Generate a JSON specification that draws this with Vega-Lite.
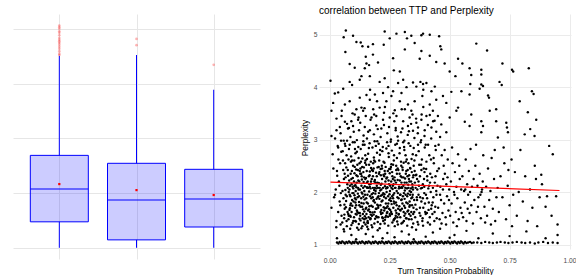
{
"$schema": "https://vega.github.io/schema/vega-lite/v6.json",
"padding": {"left": 13, "top": 6, "right": 0, "bottom": 0},
"bounds": "flush",
"spacing": 59,
"config": {
  "view": {"stroke": null},
  "font": "Liberation Sans",
  "axis": {"gridColor": "#ebebeb", "gridWidth": 1, "domain": false, "ticks": false, "labelColor": "#4d4d4d", "labelFontSize": 6.7, "titleFontSize": 8.3, "titleFontWeight": "normal", "titleColor": "#000000"}
},
"datasets": {
  "box": [
    {"group": "A", "lower": 0, "q1": 0.95, "median": 2.15, "q3": 3.38, "upper": 7.02, "mean": 2.33},
    {"group": "B", "lower": 0, "q1": 0.29, "median": 1.75, "q3": 3.09, "upper": 7.05, "mean": 2.11},
    {"group": "C", "lower": 0, "q1": 0.76, "median": 1.78, "q3": 2.87, "upper": 5.78, "mean": 1.93}
  ],
  "outliers": [
    {"group": "A", "value": 8.13}, {"group": "A", "value": 8.07}, {"group": "A", "value": 8.01}, {"group": "A", "value": 7.92},
    {"group": "A", "value": 7.86}, {"group": "A", "value": 7.77}, {"group": "A", "value": 7.67}, {"group": "A", "value": 7.61},
    {"group": "A", "value": 7.55}, {"group": "A", "value": 7.5}, {"group": "A", "value": 7.43}, {"group": "A", "value": 7.35},
    {"group": "A", "value": 7.28}, {"group": "A", "value": 7.19}, {"group": "A", "value": 7.1}, {"group": "A", "value": 7.05},
    {"group": "B", "value": 7.64}, {"group": "B", "value": 7.41},
    {"group": "C", "value": 6.69}
  ],
  "fit": [{"ttp": 0.003, "ppl": 2.19}, {"ttp": 0.958, "ppl": 2.03}],
  "pts": [
{"ttp":0.003,"ppl":4.12},{"ttp":0.067,"ppl":5.08},{"ttp":0.058,"ppl":4.95},{"ttp":0.097,"ppl":4.98},{"ttp":0.065,"ppl":4.67},{"ttp":0.111,"ppl":4.86},{"ttp":0.129,"ppl":4.85},{"ttp":0.136,"ppl":4.78},{"ttp":0.16,"ppl":4.77},{"ttp":0.18,"ppl":4.82},{"ttp":0.229,"ppl":5.06},{"ttp":0.225,"ppl":4.81},{"ttp":0.25,"ppl":4.93},{"ttp":0.278,"ppl":5.02},{"ttp":0.313,"ppl":5.05},{"ttp":0.322,"ppl":4.93},{"ttp":0.34,"ppl":4.98},{"ttp":0.354,"ppl":4.84},{"ttp":0.382,"ppl":4.99},{"ttp":0.389,"ppl":5.02},{"ttp":0.417,"ppl":5.0},{"ttp":0.456,"ppl":4.97},{"ttp":0.461,"ppl":4.78},{"ttp":0.465,"ppl":4.72},{"ttp":0.611,"ppl":4.83},{"ttp":0.656,"ppl":4.7},{"ttp":0.15,"ppl":4.58},{"ttp":0.18,"ppl":4.62},{"ttp":0.153,"ppl":4.45},{"ttp":0.083,"ppl":4.44},{"ttp":0.104,"ppl":4.37},{"ttp":0.146,"ppl":4.36},{"ttp":0.164,"ppl":4.42},{"ttp":0.201,"ppl":4.47},{"ttp":0.264,"ppl":4.55},{"ttp":0.267,"ppl":4.32},{"ttp":0.292,"ppl":4.3},{"ttp":0.313,"ppl":4.72},{"ttp":0.382,"ppl":4.69},{"ttp":0.417,"ppl":4.6},{"ttp":0.375,"ppl":4.54},{"ttp":0.444,"ppl":4.48},{"ttp":0.479,"ppl":4.45},{"ttp":0.5,"ppl":4.3},{"ttp":0.524,"ppl":4.21},{"ttp":0.535,"ppl":4.54},{"ttp":0.553,"ppl":4.45},{"ttp":0.583,"ppl":4.36},{"ttp":0.59,"ppl":4.23},{"ttp":0.632,"ppl":4.33},{"ttp":0.632,"ppl":4.24},{"ttp":0.72,"ppl":4.45},{"ttp":0.76,"ppl":4.33},{"ttp":0.765,"ppl":4.3},{"ttp":0.83,"ppl":4.36},{"ttp":0.586,"ppl":4.06},{"ttp":0.632,"ppl":4.05},{"ttp":0.639,"ppl":4.02},{"ttp":0.708,"ppl":4.1},{"ttp":0.717,"ppl":4.04},{"ttp":0.035,"ppl":3.9},{"ttp":0.056,"ppl":3.97},{"ttp":0.021,"ppl":3.88},{"ttp":0.083,"ppl":4.1},{"ttp":0.093,"ppl":4.04},{"ttp":0.125,"ppl":4.14},{"ttp":0.132,"ppl":4.21},{"ttp":0.167,"ppl":4.21},{"ttp":0.168,"ppl":3.95},{"ttp":0.208,"ppl":4.1},{"ttp":0.229,"ppl":4.17},{"ttp":0.243,"ppl":4.0},{"ttp":0.264,"ppl":3.92},{"ttp":0.285,"ppl":4.08},{"ttp":0.306,"ppl":4.14},{"ttp":0.32,"ppl":4.0},{"ttp":0.347,"ppl":4.09},{"ttp":0.361,"ppl":4.01},{"ttp":0.378,"ppl":4.1},{"ttp":0.389,"ppl":4.06},{"ttp":0.403,"ppl":4.08},{"ttp":0.438,"ppl":4.01},{"ttp":0.424,"ppl":3.92},{"ttp":0.39,"ppl":3.95},{"ttp":0.299,"ppl":3.89},{"ttp":0.257,"ppl":3.83},{"ttp":0.222,"ppl":3.89},{"ttp":0.188,"ppl":3.86},{"ttp":0.153,"ppl":3.85},{"ttp":0.125,"ppl":3.8},{"ttp":0.083,"ppl":3.73},{"ttp":0.063,"ppl":3.67},{"ttp":0.014,"ppl":3.7},{"ttp":0.507,"ppl":3.91},{"ttp":0.549,"ppl":3.92},{"ttp":0.583,"ppl":3.86},{"ttp":0.625,"ppl":3.97},{"ttp":0.66,"ppl":3.84},{"ttp":0.664,"ppl":3.8},{"ttp":0.843,"ppl":3.92},{"ttp":0.85,"ppl":3.87},{"ttp":0.792,"ppl":3.73},{"ttp":0.826,"ppl":3.52},{"ttp":0.667,"ppl":3.55},{"ttp":0.694,"ppl":3.58},{"ttp":0.59,"ppl":3.48},{"ttp":0.535,"ppl":3.61},{"ttp":0.528,"ppl":3.55},{"ttp":0.486,"ppl":3.7},{"ttp":0.472,"ppl":3.83},{"ttp":0.444,"ppl":3.76},{"ttp":0.417,"ppl":3.67},{"ttp":0.386,"ppl":3.83},{"ttp":0.354,"ppl":3.73},{"ttp":0.326,"ppl":3.67},{"ttp":0.292,"ppl":3.73},{"ttp":0.236,"ppl":3.73},{"ttp":0.197,"ppl":3.73},{"ttp":0.167,"ppl":3.76},{"ttp":0.132,"ppl":3.61},{"ttp":0.111,"ppl":3.58},{"ttp":0.139,"ppl":3.55},{"ttp":0.181,"ppl":3.58},{"ttp":0.208,"ppl":3.61},{"ttp":0.226,"ppl":3.51},{"ttp":0.271,"ppl":3.56},{"ttp":0.313,"ppl":3.58},{"ttp":0.34,"ppl":3.55},{"ttp":0.383,"ppl":3.48},{"ttp":0.417,"ppl":3.47},{"ttp":0.451,"ppl":3.45},{"ttp":0.5,"ppl":3.42},{"ttp":0.632,"ppl":3.35},{"ttp":0.694,"ppl":3.35},{"ttp":0.736,"ppl":3.32},{"ttp":0.861,"ppl":3.38},{"ttp":0.836,"ppl":3.2},{"ttp":0.854,"ppl":3.07},{"ttp":0.813,"ppl":3.1},{"ttp":0.739,"ppl":3.23},{"ttp":0.743,"ppl":3.14},{"ttp":0.701,"ppl":3.04},{"ttp":0.639,"ppl":3.26},{"ttp":0.632,"ppl":3.14},{"ttp":0.583,"ppl":3.26},{"ttp":0.563,"ppl":3.34},{"ttp":0.007,"ppl":3.55},{"ttp":0.028,"ppl":3.4},{"ttp":0.049,"ppl":3.45},{"ttp":0.063,"ppl":3.34},{"ttp":0.09,"ppl":3.35},{"ttp":0.104,"ppl":3.48},{"ttp":0.118,"ppl":3.38},{"ttp":0.15,"ppl":3.45},{"ttp":0.174,"ppl":3.42},{"ttp":0.194,"ppl":3.45},{"ttp":0.222,"ppl":3.38},{"ttp":0.25,"ppl":3.42},{"ttp":0.278,"ppl":3.45},{"ttp":0.306,"ppl":3.35},{"ttp":0.333,"ppl":3.42},{"ttp":0.361,"ppl":3.32},{"ttp":0.382,"ppl":3.38},{"ttp":0.403,"ppl":3.45},{"ttp":0.431,"ppl":3.35},{"ttp":0.465,"ppl":3.29},{"ttp":0.007,"ppl":3.07},{"ttp":0.028,"ppl":3.18},{"ttp":0.042,"ppl":3.24},{"ttp":0.076,"ppl":3.21},{"ttp":0.097,"ppl":3.26},{"ttp":0.122,"ppl":3.18},{"ttp":0.146,"ppl":3.24},{"ttp":0.167,"ppl":3.18},{"ttp":0.194,"ppl":3.27},{"ttp":0.215,"ppl":3.21},{"ttp":0.247,"ppl":3.24},{"ttp":0.275,"ppl":3.18},{"ttp":0.303,"ppl":3.21},{"ttp":0.326,"ppl":3.26},{"ttp":0.347,"ppl":3.17},{"ttp":0.368,"ppl":3.23},{"ttp":0.396,"ppl":3.18},{"ttp":0.424,"ppl":3.23},{"ttp":0.444,"ppl":3.15},{"ttp":0.486,"ppl":3.14},
{"ttp":0.022,"ppl":3.02},{"ttp":0.045,"ppl":3.12},{"ttp":0.058,"ppl":2.98},{"ttp":0.072,"ppl":3.3},{"ttp":0.086,"ppl":3.05},{"ttp":0.1,"ppl":3.15},{"ttp":0.113,"ppl":2.99},{"ttp":0.127,"ppl":3.32},{"ttp":0.141,"ppl":3.08},{"ttp":0.155,"ppl":3.02},{"ttp":0.17,"ppl":3.38},{"ttp":0.184,"ppl":3.1},{"ttp":0.198,"ppl":2.97},{"ttp":0.212,"ppl":3.05},{"ttp":0.226,"ppl":3.28},{"ttp":0.24,"ppl":3.12},{"ttp":0.255,"ppl":3.0},{"ttp":0.269,"ppl":3.35},{"ttp":0.283,"ppl":3.06},{"ttp":0.297,"ppl":3.14},{"ttp":0.311,"ppl":2.98},{"ttp":0.325,"ppl":3.09},{"ttp":0.339,"ppl":3.3},{"ttp":0.353,"ppl":3.03},{"ttp":0.367,"ppl":3.12},{"ttp":0.381,"ppl":2.99},{"ttp":0.395,"ppl":3.07},{"ttp":0.409,"ppl":3.28},{"ttp":0.423,"ppl":3.02},{"ttp":0.437,"ppl":3.36},{"ttp":0.05,"ppl":3.55},{"ttp":0.095,"ppl":3.5},{"ttp":0.145,"ppl":3.6},{"ttp":0.185,"ppl":3.48},{"ttp":0.23,"ppl":3.62},{"ttp":0.265,"ppl":3.5},{"ttp":0.3,"ppl":3.58},{"ttp":0.345,"ppl":3.48},{"ttp":0.39,"ppl":3.62},{"ttp":0.43,"ppl":3.55},{"ttp":0.035,"ppl":2.85},{"ttp":0.065,"ppl":2.88},{"ttp":0.105,"ppl":2.82},{"ttp":0.145,"ppl":2.9},{"ttp":0.178,"ppl":2.85},{"ttp":0.21,"ppl":2.8},{"ttp":0.245,"ppl":2.88},{"ttp":0.28,"ppl":2.92},{"ttp":0.31,"ppl":2.86},{"ttp":0.35,"ppl":2.84},{"ttp":0.4,"ppl":2.9},{"ttp":0.44,"ppl":2.88},{"ttp":0.12,"ppl":3.42},{"ttp":0.2,"ppl":3.2},{"ttp":0.275,"ppl":3.22},{"ttp":0.36,"ppl":3.4},{"ttp":0.08,"ppl":3.22},{"ttp":0.16,"ppl":3.15},{"ttp":0.33,"ppl":3.16},{"ttp":0.46,"ppl":3.05},
{"ttp":0.012,"ppl":2.72},{"ttp":0.018,"ppl":1.9},{"ttp":0.007,"ppl":1.7},{"ttp":0.025,"ppl":2.05},{"ttp":0.022,"ppl":1.95},{"ttp":0.03,"ppl":2.4},{"ttp":0.028,"ppl":1.45},{"ttp":0.033,"ppl":2.88},{"ttp":0.035,"ppl":1.62},{"ttp":0.038,"ppl":2.2},{"ttp":0.041,"ppl":1.82},{"ttp":0.043,"ppl":2.55},{"ttp":0.045,"ppl":1.38},{"ttp":0.047,"ppl":2.98},{"ttp":0.049,"ppl":1.55},{"ttp":0.036,"ppl":2.62},{"ttp":0.04,"ppl":2.12},{"ttp":0.044,"ppl":1.75},{"ttp":0.031,"ppl":2.31},{"ttp":0.048,"ppl":2.77},{"ttp":0.027,"ppl":1.33},{"ttp":0.046,"ppl":1.98},{"ttp":0.015,"ppl":2.45},
{"ttp":0.052,"ppl":1.42},{"ttp":0.055,"ppl":2.6},{"ttp":0.057,"ppl":1.88},{"ttp":0.059,"ppl":2.25},{"ttp":0.061,"ppl":1.57},{"ttp":0.063,"ppl":2.92},{"ttp":0.065,"ppl":2.04},{"ttp":0.067,"ppl":1.71},{"ttp":0.069,"ppl":2.47},{"ttp":0.071,"ppl":1.35},{"ttp":0.073,"ppl":2.15},{"ttp":0.054,"ppl":2.78},{"ttp":0.058,"ppl":1.29},{"ttp":0.062,"ppl":2.35},{"ttp":0.066,"ppl":1.95},{"ttp":0.07,"ppl":2.7},{"ttp":0.074,"ppl":1.62},{"ttp":0.053,"ppl":2.02},{"ttp":0.06,"ppl":1.5},{"ttp":0.064,"ppl":2.55},{"ttp":0.068,"ppl":1.83},{"ttp":0.072,"ppl":2.98},{"ttp":0.056,"ppl":2.42},{"ttp":0.075,"ppl":2.08},{"ttp":0.061,"ppl":1.76},{"ttp":0.07,"ppl":1.45},
{"ttp":0.076,"ppl":2.31},{"ttp":0.078,"ppl":1.48},{"ttp":0.08,"ppl":2.82},{"ttp":0.082,"ppl":1.66},{"ttp":0.084,"ppl":2.12},{"ttp":0.086,"ppl":1.92},{"ttp":0.088,"ppl":2.58},{"ttp":0.09,"ppl":1.37},{"ttp":0.092,"ppl":2.4},{"ttp":0.094,"ppl":1.74},{"ttp":0.096,"ppl":2.95},{"ttp":0.098,"ppl":2.07},{"ttp":0.077,"ppl":1.58},{"ttp":0.081,"ppl":2.22},{"ttp":0.085,"ppl":1.3},{"ttp":0.089,"ppl":2.68},{"ttp":0.093,"ppl":1.85},{"ttp":0.097,"ppl":2.5},{"ttp":0.079,"ppl":2.0},{"ttp":0.083,"ppl":2.9},{"ttp":0.087,"ppl":1.53},{"ttp":0.091,"ppl":2.15},{"ttp":0.095,"ppl":1.41},{"ttp":0.099,"ppl":1.98},{"ttp":0.078,"ppl":2.62},{"ttp":0.088,"ppl":1.78},{"ttp":0.096,"ppl":2.27},{"ttp":0.084,"ppl":1.69},
{"ttp":0.101,"ppl":1.52},{"ttp":0.103,"ppl":2.36},{"ttp":0.105,"ppl":1.88},{"ttp":0.107,"ppl":2.74},{"ttp":0.109,"ppl":1.44},{"ttp":0.111,"ppl":2.09},{"ttp":0.113,"ppl":1.65},{"ttp":0.115,"ppl":2.52},{"ttp":0.117,"ppl":1.97},{"ttp":0.119,"ppl":2.86},{"ttp":0.121,"ppl":1.39},{"ttp":0.123,"ppl":2.2},{"ttp":0.102,"ppl":2.6},{"ttp":0.106,"ppl":1.7},{"ttp":0.11,"ppl":2.43},{"ttp":0.114,"ppl":1.32},{"ttp":0.118,"ppl":2.08},{"ttp":0.122,"ppl":1.81},{"ttp":0.104,"ppl":2.95},{"ttp":0.108,"ppl":2.02},{"ttp":0.112,"ppl":1.57},{"ttp":0.116,"ppl":2.3},{"ttp":0.12,"ppl":2.65},{"ttp":0.124,"ppl":1.49},{"ttp":0.103,"ppl":1.94},{"ttp":0.113,"ppl":2.77},{"ttp":0.119,"ppl":1.6},{"ttp":0.107,"ppl":2.13},{"ttp":0.125,"ppl":2.4},{"ttp":0.11,"ppl":1.75},
{"ttp":0.126,"ppl":2.05},{"ttp":0.128,"ppl":1.46},{"ttp":0.13,"ppl":2.58},{"ttp":0.132,"ppl":1.79},{"ttp":0.134,"ppl":2.24},{"ttp":0.136,"ppl":1.35},{"ttp":0.138,"ppl":2.9},{"ttp":0.14,"ppl":1.91},{"ttp":0.142,"ppl":2.47},{"ttp":0.144,"ppl":1.63},{"ttp":0.146,"ppl":2.11},{"ttp":0.148,"ppl":2.7},{"ttp":0.127,"ppl":1.55},{"ttp":0.131,"ppl":2.35},{"ttp":0.135,"ppl":1.72},{"ttp":0.139,"ppl":2.08},{"ttp":0.143,"ppl":1.42},{"ttp":0.147,"ppl":2.56},{"ttp":0.129,"ppl":2.82},{"ttp":0.133,"ppl":1.99},{"ttp":0.137,"ppl":1.5},{"ttp":0.141,"ppl":2.19},{"ttp":0.145,"ppl":1.86},{"ttp":0.149,"ppl":1.38},{"ttp":0.128,"ppl":2.45},{"ttp":0.136,"ppl":2.64},{"ttp":0.144,"ppl":2.02},{"ttp":0.15,"ppl":1.68},{"ttp":0.132,"ppl":1.31},{"ttp":0.14,"ppl":2.97},{"ttp":0.146,"ppl":1.54},
{"ttp":0.151,"ppl":2.27},{"ttp":0.153,"ppl":1.58},{"ttp":0.155,"ppl":2.63},{"ttp":0.157,"ppl":1.95},{"ttp":0.159,"ppl":1.41},{"ttp":0.161,"ppl":2.08},{"ttp":0.163,"ppl":2.84},{"ttp":0.165,"ppl":1.73},{"ttp":0.167,"ppl":2.39},{"ttp":0.169,"ppl":1.48},{"ttp":0.171,"ppl":2.16},{"ttp":0.173,"ppl":1.88},{"ttp":0.152,"ppl":2.52},{"ttp":0.156,"ppl":1.34},{"ttp":0.16,"ppl":2.73},{"ttp":0.164,"ppl":2.01},{"ttp":0.168,"ppl":1.62},{"ttp":0.172,"ppl":2.46},{"ttp":0.154,"ppl":1.8},{"ttp":0.158,"ppl":2.2},{"ttp":0.162,"ppl":1.52},{"ttp":0.166,"ppl":2.93},{"ttp":0.17,"ppl":2.07},{"ttp":0.174,"ppl":1.37},{"ttp":0.155,"ppl":2.09},{"ttp":0.163,"ppl":1.67},{"ttp":0.171,"ppl":2.58},{"ttp":0.158,"ppl":1.45},{"ttp":0.166,"ppl":2.32},{"ttp":0.175,"ppl":1.96},{"ttp":0.152,"ppl":1.7},
{"ttp":0.176,"ppl":2.42},{"ttp":0.178,"ppl":1.61},{"ttp":0.18,"ppl":2.08},{"ttp":0.182,"ppl":1.83},{"ttp":0.184,"ppl":2.66},{"ttp":0.186,"ppl":1.4},{"ttp":0.188,"ppl":2.23},{"ttp":0.19,"ppl":1.97},{"ttp":0.192,"ppl":2.88},{"ttp":0.194,"ppl":1.54},{"ttp":0.196,"ppl":2.12},{"ttp":0.198,"ppl":1.76},{"ttp":0.177,"ppl":1.33},{"ttp":0.181,"ppl":2.55},{"ttp":0.185,"ppl":2.04},{"ttp":0.189,"ppl":1.49},{"ttp":0.193,"ppl":2.37},{"ttp":0.197,"ppl":2.75},{"ttp":0.179,"ppl":1.9},{"ttp":0.183,"ppl":1.57},{"ttp":0.187,"ppl":2.97},{"ttp":0.191,"ppl":2.18},{"ttp":0.195,"ppl":1.68},{"ttp":0.199,"ppl":2.47},{"ttp":0.18,"ppl":2.3},{"ttp":0.188,"ppl":1.8},{"ttp":0.194,"ppl":2.07},{"ttp":0.2,"ppl":1.43},{"ttp":0.185,"ppl":2.6},
{"ttp":0.201,"ppl":2.08},{"ttp":0.203,"ppl":1.52},{"ttp":0.205,"ppl":2.35},{"ttp":0.207,"ppl":1.87},{"ttp":0.209,"ppl":2.71},{"ttp":0.211,"ppl":1.39},{"ttp":0.213,"ppl":2.14},{"ttp":0.215,"ppl":1.66},{"ttp":0.217,"ppl":2.5},{"ttp":0.219,"ppl":1.95},{"ttp":0.221,"ppl":2.86},{"ttp":0.223,"ppl":1.45},{"ttp":0.202,"ppl":1.74},{"ttp":0.206,"ppl":2.6},{"ttp":0.21,"ppl":2.03},{"ttp":0.214,"ppl":1.58},{"ttp":0.218,"ppl":2.25},{"ttp":0.222,"ppl":2.08},{"ttp":0.204,"ppl":2.92},{"ttp":0.208,"ppl":1.31},{"ttp":0.212,"ppl":2.44},{"ttp":0.216,"ppl":1.82},{"ttp":0.22,"ppl":1.6},{"ttp":0.224,"ppl":2.33},{"ttp":0.205,"ppl":2.17},{"ttp":0.213,"ppl":1.93},{"ttp":0.219,"ppl":2.78},{"ttp":0.225,"ppl":1.71},
{"ttp":0.226,"ppl":1.91},{"ttp":0.228,"ppl":2.56},{"ttp":0.23,"ppl":1.47},{"ttp":0.232,"ppl":2.2},{"ttp":0.234,"ppl":1.78},{"ttp":0.236,"ppl":2.83},{"ttp":0.238,"ppl":1.6},{"ttp":0.24,"ppl":2.09},{"ttp":0.242,"ppl":2.4},{"ttp":0.244,"ppl":1.36},{"ttp":0.246,"ppl":2.67},{"ttp":0.248,"ppl":1.85},{"ttp":0.227,"ppl":2.3},{"ttp":0.231,"ppl":1.69},{"ttp":0.235,"ppl":2.07},{"ttp":0.239,"ppl":2.95},{"ttp":0.243,"ppl":1.53},{"ttp":0.247,"ppl":2.15},{"ttp":0.229,"ppl":1.4},{"ttp":0.233,"ppl":2.48},{"ttp":0.237,"ppl":2.0},{"ttp":0.241,"ppl":1.73},{"ttp":0.245,"ppl":2.74},{"ttp":0.249,"ppl":1.96},{"ttp":0.23,"ppl":2.11},{"ttp":0.24,"ppl":1.62},{"ttp":0.25,"ppl":2.36},
{"ttp":0.251,"ppl":1.55},{"ttp":0.253,"ppl":2.44},{"ttp":0.255,"ppl":1.83},{"ttp":0.257,"ppl":2.08},{"ttp":0.259,"ppl":2.79},{"ttp":0.261,"ppl":1.42},{"ttp":0.263,"ppl":2.25},{"ttp":0.265,"ppl":1.7},{"ttp":0.267,"ppl":2.6},{"ttp":0.269,"ppl":1.98},{"ttp":0.271,"ppl":1.35},{"ttp":0.273,"ppl":2.9},{"ttp":0.252,"ppl":2.12},{"ttp":0.256,"ppl":1.62},{"ttp":0.26,"ppl":2.38},{"ttp":0.264,"ppl":1.88},{"ttp":0.268,"ppl":2.7},{"ttp":0.272,"ppl":1.5},{"ttp":0.254,"ppl":2.96},{"ttp":0.258,"ppl":1.77},{"ttp":0.262,"ppl":2.06},{"ttp":0.266,"ppl":1.46},{"ttp":0.27,"ppl":2.28},{"ttp":0.274,"ppl":2.08},{"ttp":0.257,"ppl":2.53},{"ttp":0.265,"ppl":1.95},{"ttp":0.275,"ppl":1.65},
{"ttp":0.276,"ppl":2.18},{"ttp":0.278,"ppl":1.6},{"ttp":0.28,"ppl":2.65},{"ttp":0.282,"ppl":1.9},{"ttp":0.284,"ppl":1.38},{"ttp":0.286,"ppl":2.42},{"ttp":0.288,"ppl":2.07},{"ttp":0.29,"ppl":1.73},{"ttp":0.292,"ppl":2.84},{"ttp":0.294,"ppl":1.52},{"ttp":0.296,"ppl":2.3},{"ttp":0.298,"ppl":1.85},{"ttp":0.277,"ppl":2.5},{"ttp":0.281,"ppl":1.44},{"ttp":0.285,"ppl":2.98},{"ttp":0.289,"ppl":2.1},{"ttp":0.293,"ppl":1.66},{"ttp":0.297,"ppl":2.58},{"ttp":0.279,"ppl":2.02},{"ttp":0.283,"ppl":2.23},{"ttp":0.287,"ppl":1.57},{"ttp":0.291,"ppl":2.74},{"ttp":0.295,"ppl":1.95},{"ttp":0.299,"ppl":1.4},{"ttp":0.3,"ppl":2.09},
{"ttp":0.301,"ppl":1.68},{"ttp":0.303,"ppl":2.47},{"ttp":0.305,"ppl":1.92},{"ttp":0.307,"ppl":2.12},{"ttp":0.309,"ppl":1.45},{"ttp":0.311,"ppl":2.8},{"ttp":0.313,"ppl":2.03},{"ttp":0.315,"ppl":1.59},{"ttp":0.317,"ppl":2.35},{"ttp":0.319,"ppl":1.8},{"ttp":0.321,"ppl":2.62},{"ttp":0.323,"ppl":1.36},{"ttp":0.302,"ppl":2.08},{"ttp":0.306,"ppl":2.95},{"ttp":0.31,"ppl":1.74},{"ttp":0.314,"ppl":2.26},{"ttp":0.318,"ppl":1.5},{"ttp":0.322,"ppl":2.07},{"ttp":0.304,"ppl":1.42},{"ttp":0.308,"ppl":2.56},{"ttp":0.312,"ppl":1.87},{"ttp":0.316,"ppl":2.7},{"ttp":0.32,"ppl":2.18},{"ttp":0.324,"ppl":1.63},{"ttp":0.325,"ppl":2.42},
{"ttp":0.326,"ppl":1.97},{"ttp":0.328,"ppl":2.55},{"ttp":0.33,"ppl":1.48},{"ttp":0.332,"ppl":2.2},{"ttp":0.334,"ppl":1.75},{"ttp":0.336,"ppl":2.88},{"ttp":0.338,"ppl":2.07},{"ttp":0.34,"ppl":1.62},{"ttp":0.342,"ppl":2.38},{"ttp":0.344,"ppl":1.9},{"ttp":0.346,"ppl":2.72},{"ttp":0.348,"ppl":1.4},{"ttp":0.327,"ppl":2.14},{"ttp":0.331,"ppl":1.58},{"ttp":0.335,"ppl":2.46},{"ttp":0.339,"ppl":2.0},{"ttp":0.343,"ppl":1.33},{"ttp":0.347,"ppl":2.28},{"ttp":0.329,"ppl":2.93},{"ttp":0.333,"ppl":1.82},{"ttp":0.337,"ppl":1.55},{"ttp":0.341,"ppl":2.63},{"ttp":0.345,"ppl":2.09},{"ttp":0.349,"ppl":1.7},{"ttp":0.35,"ppl":2.5},
{"ttp":0.352,"ppl":1.85},{"ttp":0.354,"ppl":2.4},{"ttp":0.356,"ppl":1.52},{"ttp":0.358,"ppl":2.08},{"ttp":0.36,"ppl":2.7},{"ttp":0.362,"ppl":1.67},{"ttp":0.364,"ppl":2.25},{"ttp":0.366,"ppl":1.43},{"ttp":0.368,"ppl":2.9},{"ttp":0.37,"ppl":1.95},{"ttp":0.372,"ppl":2.12},{"ttp":0.374,"ppl":1.6},{"ttp":0.353,"ppl":2.6},{"ttp":0.357,"ppl":1.76},{"ttp":0.361,"ppl":2.33},{"ttp":0.365,"ppl":2.05},{"ttp":0.369,"ppl":1.38},{"ttp":0.373,"ppl":2.52},{"ttp":0.355,"ppl":2.18},{"ttp":0.363,"ppl":1.9},{"ttp":0.371,"ppl":2.78},
{"ttp":0.376,"ppl":2.3},{"ttp":0.378,"ppl":1.55},{"ttp":0.38,"ppl":2.07},{"ttp":0.382,"ppl":1.82},{"ttp":0.384,"ppl":2.62},{"ttp":0.386,"ppl":1.45},{"ttp":0.388,"ppl":2.15},{"ttp":0.39,"ppl":1.7},{"ttp":0.392,"ppl":2.45},{"ttp":0.394,"ppl":1.98},{"ttp":0.396,"ppl":2.85},{"ttp":0.398,"ppl":1.62},{"ttp":0.377,"ppl":1.9},{"ttp":0.381,"ppl":2.52},{"ttp":0.385,"ppl":2.08},{"ttp":0.389,"ppl":1.36},{"ttp":0.393,"ppl":2.25},{"ttp":0.397,"ppl":1.78},{"ttp":0.379,"ppl":2.95},{"ttp":0.387,"ppl":1.5},{"ttp":0.395,"ppl":2.38},
{"ttp":0.401,"ppl":1.95},{"ttp":0.403,"ppl":2.58},{"ttp":0.405,"ppl":1.6},{"ttp":0.407,"ppl":2.22},{"ttp":0.409,"ppl":1.42},{"ttp":0.411,"ppl":2.07},{"ttp":0.413,"ppl":1.8},{"ttp":0.415,"ppl":2.7},{"ttp":0.417,"ppl":1.52},{"ttp":0.419,"ppl":2.35},{"ttp":0.421,"ppl":2.0},{"ttp":0.423,"ppl":1.68},{"ttp":0.402,"ppl":2.44},{"ttp":0.406,"ppl":1.88},{"ttp":0.41,"ppl":2.9},{"ttp":0.414,"ppl":2.12},{"ttp":0.418,"ppl":1.38},{"ttp":0.422,"ppl":2.62},{"ttp":0.425,"ppl":1.75},
{"ttp":0.426,"ppl":2.28},{"ttp":0.428,"ppl":1.58},{"ttp":0.43,"ppl":2.08},{"ttp":0.432,"ppl":1.9},{"ttp":0.434,"ppl":2.55},{"ttp":0.436,"ppl":1.45},{"ttp":0.438,"ppl":2.18},{"ttp":0.44,"ppl":1.72},{"ttp":0.442,"ppl":2.8},{"ttp":0.444,"ppl":2.02},{"ttp":0.446,"ppl":1.5},{"ttp":0.448,"ppl":2.4},{"ttp":0.429,"ppl":1.8},{"ttp":0.433,"ppl":2.65},{"ttp":0.437,"ppl":1.62},{"ttp":0.441,"ppl":2.3},{"ttp":0.445,"ppl":1.95},{"ttp":0.449,"ppl":2.12},
{"ttp":0.452,"ppl":1.7},{"ttp":0.455,"ppl":2.45},{"ttp":0.458,"ppl":1.48},{"ttp":0.461,"ppl":2.1},{"ttp":0.464,"ppl":1.85},{"ttp":0.467,"ppl":2.7},{"ttp":0.47,"ppl":1.6},{"ttp":0.473,"ppl":2.25},{"ttp":0.454,"ppl":2.9},{"ttp":0.46,"ppl":1.95},{"ttp":0.466,"ppl":1.4},{"ttp":0.472,"ppl":2.05},{"ttp":0.475,"ppl":2.5},
{"ttp":0.477,"ppl":1.78},{"ttp":0.48,"ppl":2.35},{"ttp":0.483,"ppl":1.52},{"ttp":0.486,"ppl":2.15},{"ttp":0.489,"ppl":1.92},{"ttp":0.492,"ppl":2.62},{"ttp":0.495,"ppl":1.65},{"ttp":0.498,"ppl":2.05},{"ttp":0.479,"ppl":2.8},{"ttp":0.485,"ppl":1.38},{"ttp":0.491,"ppl":2.28},{"ttp":0.497,"ppl":1.85},
{"ttp":0.502,"ppl":1.55},{"ttp":0.505,"ppl":2.2},{"ttp":0.508,"ppl":1.78},{"ttp":0.512,"ppl":2.55},{"ttp":0.515,"ppl":1.42},{"ttp":0.518,"ppl":2.0},{"ttp":0.522,"ppl":2.38},{"ttp":0.525,"ppl":1.62},{"ttp":0.528,"ppl":2.1},{"ttp":0.532,"ppl":1.88},{"ttp":0.535,"ppl":2.72},{"ttp":0.538,"ppl":1.48},{"ttp":0.542,"ppl":2.25},{"ttp":0.545,"ppl":1.7},{"ttp":0.548,"ppl":2.05},{"ttp":0.51,"ppl":2.85},{"ttp":0.52,"ppl":1.95},{"ttp":0.53,"ppl":1.35},{"ttp":0.54,"ppl":2.5},{"ttp":0.55,"ppl":1.6},
{"ttp":0.553,"ppl":2.3},{"ttp":0.556,"ppl":1.52},{"ttp":0.56,"ppl":2.02},{"ttp":0.563,"ppl":1.8},{"ttp":0.567,"ppl":2.62},{"ttp":0.57,"ppl":1.45},{"ttp":0.573,"ppl":2.15},{"ttp":0.577,"ppl":1.95},{"ttp":0.58,"ppl":2.4},{"ttp":0.583,"ppl":1.6},{"ttp":0.587,"ppl":2.82},{"ttp":0.59,"ppl":1.75},{"ttp":0.593,"ppl":2.1},{"ttp":0.597,"ppl":1.4},{"ttp":0.6,"ppl":2.25},{"ttp":0.575,"ppl":1.68},{"ttp":0.585,"ppl":2.0},{"ttp":0.565,"ppl":2.05},
{"ttp":0.603,"ppl":1.85},{"ttp":0.607,"ppl":2.5},{"ttp":0.612,"ppl":1.62},{"ttp":0.616,"ppl":2.12},{"ttp":0.62,"ppl":1.9},{"ttp":0.625,"ppl":2.35},{"ttp":0.63,"ppl":1.5},{"ttp":0.635,"ppl":2.05},{"ttp":0.64,"ppl":2.7},{"ttp":0.645,"ppl":1.72},{"ttp":0.61,"ppl":2.9},{"ttp":0.628,"ppl":1.95},{"ttp":0.638,"ppl":2.2},{"ttp":0.648,"ppl":1.42},{"ttp":0.618,"ppl":1.72},{"ttp":0.633,"ppl":2.0},
{"ttp":0.652,"ppl":2.1},{"ttp":0.656,"ppl":1.55},{"ttp":0.66,"ppl":2.45},{"ttp":0.665,"ppl":1.85},{"ttp":0.67,"ppl":2.02},{"ttp":0.675,"ppl":2.65},{"ttp":0.68,"ppl":1.68},{"ttp":0.685,"ppl":2.25},{"ttp":0.69,"ppl":1.45},{"ttp":0.695,"ppl":1.9},{"ttp":0.7,"ppl":2.08},{"ttp":0.672,"ppl":1.38},{"ttp":0.688,"ppl":2.8},
{"ttp":0.705,"ppl":1.62},{"ttp":0.712,"ppl":2.3},{"ttp":0.72,"ppl":1.9},{"ttp":0.728,"ppl":2.55},{"ttp":0.735,"ppl":1.48},{"ttp":0.742,"ppl":2.12},{"ttp":0.75,"ppl":1.75},{"ttp":0.758,"ppl":2.62},{"ttp":0.765,"ppl":1.95},{"ttp":0.772,"ppl":2.38},{"ttp":0.78,"ppl":1.55},{"ttp":0.788,"ppl":2.0},{"ttp":0.795,"ppl":2.8},{"ttp":0.725,"ppl":2.85},{"ttp":0.76,"ppl":1.35},{"ttp":0.745,"ppl":2.42},
{"ttp":0.805,"ppl":1.82},{"ttp":0.815,"ppl":2.3},{"ttp":0.825,"ppl":1.45},{"ttp":0.835,"ppl":2.05},{"ttp":0.845,"ppl":1.7},{"ttp":0.855,"ppl":2.5},{"ttp":0.865,"ppl":1.35},{"ttp":0.875,"ppl":1.9},{"ttp":0.885,"ppl":2.15},{"ttp":0.9,"ppl":1.72},{"ttp":0.915,"ppl":2.88},{"ttp":0.93,"ppl":2.72},{"ttp":0.95,"ppl":1.38},{"ttp":0.925,"ppl":1.55},{"ttp":0.86,"ppl":2.25},{"ttp":0.944,"ppl":1.92},{"ttp":0.906,"ppl":1.92},{"ttp":0.882,"ppl":2.33},
{"ttp":0.083,"ppl":1.95},{"ttp":0.087,"ppl":2.35},{"ttp":0.091,"ppl":1.62},{"ttp":0.095,"ppl":2.1},{"ttp":0.099,"ppl":1.82},{"ttp":0.104,"ppl":2.48},{"ttp":0.108,"ppl":1.58},{"ttp":0.112,"ppl":2.18},{"ttp":0.116,"ppl":1.9},{"ttp":0.12,"ppl":2.05},{"ttp":0.124,"ppl":2.55},{"ttp":0.128,"ppl":1.72},{"ttp":0.132,"ppl":2.12},{"ttp":0.136,"ppl":1.97},{"ttp":0.14,"ppl":2.38},{"ttp":0.144,"ppl":1.48},{"ttp":0.148,"ppl":2.25},{"ttp":0.152,"ppl":1.88},{"ttp":0.156,"ppl":2.08},{"ttp":0.16,"ppl":1.65},{"ttp":0.164,"ppl":2.52},{"ttp":0.168,"ppl":1.92},{"ttp":0.172,"ppl":2.2},{"ttp":0.176,"ppl":1.55},{"ttp":0.18,"ppl":2.4},{"ttp":0.184,"ppl":1.85},{"ttp":0.188,"ppl":2.08},{"ttp":0.192,"ppl":1.68},{"ttp":0.196,"ppl":2.3},{"ttp":0.2,"ppl":1.9},{"ttp":0.204,"ppl":2.48},{"ttp":0.208,"ppl":2.08},{"ttp":0.212,"ppl":1.62},{"ttp":0.216,"ppl":2.16},{"ttp":0.22,"ppl":1.84},{"ttp":0.224,"ppl":2.58},{"ttp":0.228,"ppl":1.96},{"ttp":0.232,"ppl":1.52},{"ttp":0.236,"ppl":2.26},{"ttp":0.24,"ppl":2.08},{"ttp":0.244,"ppl":1.78},{"ttp":0.248,"ppl":2.44},{"ttp":0.252,"ppl":1.66},{"ttp":0.256,"ppl":2.2},{"ttp":0.26,"ppl":1.92},{"ttp":0.264,"ppl":2.52},{"ttp":0.268,"ppl":1.48},{"ttp":0.272,"ppl":2.08},{"ttp":0.276,"ppl":1.8},{"ttp":0.28,"ppl":2.35},{"ttp":0.284,"ppl":1.98},{"ttp":0.288,"ppl":1.58},{"ttp":0.292,"ppl":2.22},{"ttp":0.296,"ppl":2.08},{"ttp":0.3,"ppl":1.86},{"ttp":0.304,"ppl":2.42},{"ttp":0.308,"ppl":1.62},{"ttp":0.312,"ppl":2.18},{"ttp":0.316,"ppl":1.95},{"ttp":0.32,"ppl":1.5},{"ttp":0.324,"ppl":2.3},{"ttp":0.328,"ppl":2.08},{"ttp":0.332,"ppl":1.72},{"ttp":0.336,"ppl":2.45},{"ttp":0.34,"ppl":1.88},{"ttp":0.344,"ppl":2.15},{"ttp":0.348,"ppl":1.58},
{"ttp":0.085,"ppl":1.55},{"ttp":0.093,"ppl":2.6},{"ttp":0.101,"ppl":2.2},{"ttp":0.109,"ppl":1.86},{"ttp":0.117,"ppl":2.42},{"ttp":0.125,"ppl":1.6},{"ttp":0.133,"ppl":2.3},{"ttp":0.141,"ppl":1.78},{"ttp":0.149,"ppl":2.6},{"ttp":0.157,"ppl":1.42},{"ttp":0.165,"ppl":2.15},{"ttp":0.173,"ppl":1.74},{"ttp":0.181,"ppl":1.98},{"ttp":0.189,"ppl":2.58},{"ttp":0.197,"ppl":1.52},{"ttp":0.205,"ppl":1.98},{"ttp":0.213,"ppl":2.32},{"ttp":0.221,"ppl":1.5},{"ttp":0.229,"ppl":2.4},{"ttp":0.237,"ppl":1.7},{"ttp":0.245,"ppl":2.22},{"ttp":0.253,"ppl":1.88},{"ttp":0.261,"ppl":2.3},{"ttp":0.269,"ppl":1.78},{"ttp":0.277,"ppl":2.42},{"ttp":0.285,"ppl":1.68},{"ttp":0.293,"ppl":1.95},{"ttp":0.301,"ppl":2.28},{"ttp":0.309,"ppl":1.98},{"ttp":0.317,"ppl":2.58},{"ttp":0.325,"ppl":1.78},{"ttp":0.333,"ppl":2.02},{"ttp":0.341,"ppl":1.48},{"ttp":0.349,"ppl":2.32},
{"ttp":0.106,"ppl":1.45},{"ttp":0.122,"ppl":1.92},{"ttp":0.138,"ppl":1.58},{"ttp":0.154,"ppl":2.4},{"ttp":0.17,"ppl":1.5},{"ttp":0.186,"ppl":2.2},{"ttp":0.202,"ppl":1.7},{"ttp":0.218,"ppl":2.45},{"ttp":0.234,"ppl":1.88},{"ttp":0.25,"ppl":1.58},{"ttp":0.266,"ppl":2.15},{"ttp":0.282,"ppl":1.52},{"ttp":0.298,"ppl":2.5},{"ttp":0.314,"ppl":1.7},{"ttp":0.33,"ppl":2.25},{"ttp":0.346,"ppl":1.95},
{"ttp":0.062,"ppl":1.68},{"ttp":0.066,"ppl":2.28},{"ttp":0.071,"ppl":1.92},{"ttp":0.075,"ppl":2.42},{"ttp":0.079,"ppl":1.55},{"ttp":0.082,"ppl":2.05},{"ttp":0.086,"ppl":1.75},{"ttp":0.09,"ppl":2.25},{"ttp":0.094,"ppl":1.98},{"ttp":0.098,"ppl":1.45},{"ttp":0.103,"ppl":2.12},{"ttp":0.107,"ppl":1.8},{"ttp":0.111,"ppl":2.32},{"ttp":0.115,"ppl":1.62},{"ttp":0.119,"ppl":2.22},{"ttp":0.123,"ppl":1.75},{"ttp":0.127,"ppl":2.35},{"ttp":0.131,"ppl":1.88},{"ttp":0.135,"ppl":2.48},{"ttp":0.139,"ppl":1.67},{"ttp":0.143,"ppl":2.28},{"ttp":0.147,"ppl":1.95},{"ttp":0.151,"ppl":1.5},{"ttp":0.155,"ppl":2.18},{"ttp":0.159,"ppl":1.78},{"ttp":0.163,"ppl":2.3},{"ttp":0.167,"ppl":2.1},{"ttp":0.171,"ppl":1.57},{"ttp":0.175,"ppl":2.25},{"ttp":0.179,"ppl":1.72},{"ttp":0.183,"ppl":2.45},{"ttp":0.187,"ppl":1.62},{"ttp":0.191,"ppl":2.02},{"ttp":0.195,"ppl":1.87},{"ttp":0.199,"ppl":2.18},{"ttp":0.203,"ppl":1.92},{"ttp":0.207,"ppl":2.38},{"ttp":0.211,"ppl":1.75},{"ttp":0.215,"ppl":2.05},{"ttp":0.219,"ppl":1.52},{"ttp":0.223,"ppl":1.98},{"ttp":0.227,"ppl":1.65},{"ttp":0.231,"ppl":2.35},{"ttp":0.235,"ppl":1.55},{"ttp":0.239,"ppl":2.28},{"ttp":0.243,"ppl":1.92},{"ttp":0.247,"ppl":1.68},{"ttp":0.251,"ppl":2.02},{"ttp":0.255,"ppl":2.48},{"ttp":0.259,"ppl":1.58},{"ttp":0.263,"ppl":2.12},{"ttp":0.267,"ppl":1.82},{"ttp":0.271,"ppl":2.22},{"ttp":0.275,"ppl":1.55},{"ttp":0.279,"ppl":1.75},{"ttp":0.283,"ppl":2.45},{"ttp":0.287,"ppl":1.88},{"ttp":0.291,"ppl":2.35},{"ttp":0.295,"ppl":1.65},{"ttp":0.299,"ppl":2.18},{"ttp":0.303,"ppl":1.78},{"ttp":0.307,"ppl":2.28},{"ttp":0.311,"ppl":1.55},{"ttp":0.315,"ppl":2.08},{"ttp":0.319,"ppl":2.4},{"ttp":0.323,"ppl":1.92},{"ttp":0.327,"ppl":1.65},{"ttp":0.331,"ppl":2.32},{"ttp":0.335,"ppl":1.95},{"ttp":0.339,"ppl":2.2},{"ttp":0.343,"ppl":1.75},{"ttp":0.347,"ppl":2.05},{"ttp":0.352,"ppl":1.62},{"ttp":0.358,"ppl":2.32},{"ttp":0.364,"ppl":1.85},{"ttp":0.37,"ppl":2.2},{"ttp":0.376,"ppl":1.7},{"ttp":0.382,"ppl":2.42},{"ttp":0.388,"ppl":1.88},{"ttp":0.394,"ppl":2.1},{"ttp":0.4,"ppl":1.58},{"ttp":0.406,"ppl":2.3},{"ttp":0.412,"ppl":1.66},{"ttp":0.418,"ppl":2.18},
{"ttp":0.03,"ppl":1.12},{"ttp":0.06,"ppl":1.25},{"ttp":0.09,"ppl":1.18},{"ttp":0.12,"ppl":1.28},{"ttp":0.15,"ppl":1.2},{"ttp":0.18,"ppl":1.15},{"ttp":0.2,"ppl":1.27},{"ttp":0.24,"ppl":1.22},{"ttp":0.27,"ppl":1.14},{"ttp":0.3,"ppl":1.25},{"ttp":0.33,"ppl":1.19},{"ttp":0.36,"ppl":1.28},{"ttp":0.4,"ppl":1.15},{"ttp":0.43,"ppl":1.23},{"ttp":0.46,"ppl":1.3},{"ttp":0.52,"ppl":1.18},{"ttp":0.57,"ppl":1.26},{"ttp":0.62,"ppl":1.12},{"ttp":0.68,"ppl":1.21},{"ttp":0.75,"ppl":1.16},{"ttp":0.82,"ppl":1.25},{"ttp":0.9,"ppl":1.12},{"ttp":0.95,"ppl":1.18},{"ttp":0.11,"ppl":1.1},{"ttp":0.22,"ppl":1.12},{"ttp":0.16,"ppl":1.29},{"ttp":0.35,"ppl":1.1},{"ttp":0.5,"ppl":1.13},
{"ttp":0.03,"ppl":1.04},{"ttp":0.036,"ppl":1.02},{"ttp":0.041,"ppl":1.05},{"ttp":0.047,"ppl":1.03},{"ttp":0.052,"ppl":1.06},{"ttp":0.058,"ppl":1.04},{"ttp":0.063,"ppl":1.02},{"ttp":0.069,"ppl":1.05},{"ttp":0.074,"ppl":1.03},{"ttp":0.08,"ppl":1.06},{"ttp":0.085,"ppl":1.04},{"ttp":0.091,"ppl":1.02},{"ttp":0.096,"ppl":1.05},{"ttp":0.102,"ppl":1.03},{"ttp":0.107,"ppl":1.06},{"ttp":0.113,"ppl":1.04},{"ttp":0.118,"ppl":1.02},{"ttp":0.124,"ppl":1.05},{"ttp":0.129,"ppl":1.03},{"ttp":0.135,"ppl":1.06},{"ttp":0.14,"ppl":1.04},{"ttp":0.146,"ppl":1.02},{"ttp":0.151,"ppl":1.05},{"ttp":0.157,"ppl":1.03},{"ttp":0.162,"ppl":1.06},{"ttp":0.168,"ppl":1.04},{"ttp":0.173,"ppl":1.02},{"ttp":0.179,"ppl":1.05},{"ttp":0.184,"ppl":1.03},{"ttp":0.19,"ppl":1.06},{"ttp":0.195,"ppl":1.04},{"ttp":0.201,"ppl":1.02},{"ttp":0.206,"ppl":1.05},{"ttp":0.212,"ppl":1.03},{"ttp":0.217,"ppl":1.06},{"ttp":0.223,"ppl":1.04},{"ttp":0.228,"ppl":1.02},{"ttp":0.234,"ppl":1.05},{"ttp":0.239,"ppl":1.03},{"ttp":0.245,"ppl":1.06},{"ttp":0.25,"ppl":1.04},{"ttp":0.256,"ppl":1.02},{"ttp":0.261,"ppl":1.05},{"ttp":0.267,"ppl":1.03},{"ttp":0.272,"ppl":1.06},{"ttp":0.278,"ppl":1.04},{"ttp":0.283,"ppl":1.02},{"ttp":0.289,"ppl":1.05},{"ttp":0.294,"ppl":1.03},{"ttp":0.3,"ppl":1.06},{"ttp":0.305,"ppl":1.04},{"ttp":0.311,"ppl":1.02},{"ttp":0.316,"ppl":1.05},{"ttp":0.322,"ppl":1.03},{"ttp":0.327,"ppl":1.06},{"ttp":0.333,"ppl":1.04},{"ttp":0.338,"ppl":1.02},{"ttp":0.344,"ppl":1.05},{"ttp":0.349,"ppl":1.03},{"ttp":0.355,"ppl":1.06},{"ttp":0.36,"ppl":1.04},{"ttp":0.366,"ppl":1.02},{"ttp":0.371,"ppl":1.05},{"ttp":0.377,"ppl":1.03},{"ttp":0.382,"ppl":1.06},{"ttp":0.388,"ppl":1.04},{"ttp":0.393,"ppl":1.02},{"ttp":0.399,"ppl":1.05},{"ttp":0.404,"ppl":1.03},{"ttp":0.41,"ppl":1.06},{"ttp":0.415,"ppl":1.04},{"ttp":0.421,"ppl":1.02},{"ttp":0.426,"ppl":1.05},{"ttp":0.432,"ppl":1.03},{"ttp":0.437,"ppl":1.06},{"ttp":0.443,"ppl":1.04},{"ttp":0.448,"ppl":1.02},{"ttp":0.454,"ppl":1.05},{"ttp":0.459,"ppl":1.03},{"ttp":0.465,"ppl":1.06},{"ttp":0.47,"ppl":1.04},{"ttp":0.476,"ppl":1.02},{"ttp":0.481,"ppl":1.05},{"ttp":0.487,"ppl":1.03},{"ttp":0.492,"ppl":1.06},{"ttp":0.498,"ppl":1.04},{"ttp":0.503,"ppl":1.02},{"ttp":0.509,"ppl":1.05},{"ttp":0.514,"ppl":1.03},{"ttp":0.52,"ppl":1.06},{"ttp":0.525,"ppl":1.04},{"ttp":0.531,"ppl":1.02},{"ttp":0.536,"ppl":1.05},{"ttp":0.542,"ppl":1.03},{"ttp":0.547,"ppl":1.06},{"ttp":0.553,"ppl":1.04},{"ttp":0.558,"ppl":1.02},{"ttp":0.564,"ppl":1.05},{"ttp":0.57,"ppl":1.03},{"ttp":0.577,"ppl":1.04},{"ttp":0.585,"ppl":1.05},{"ttp":0.592,"ppl":1.03},{"ttp":0.6,"ppl":1.04},
{"ttp":0.615,"ppl":1.04},{"ttp":0.632,"ppl":1.03},{"ttp":0.648,"ppl":1.05},{"ttp":0.665,"ppl":1.04},{"ttp":0.68,"ppl":1.03},{"ttp":0.697,"ppl":1.04},{"ttp":0.712,"ppl":1.05},{"ttp":0.73,"ppl":1.04},{"ttp":0.745,"ppl":1.03},{"ttp":0.762,"ppl":1.04},{"ttp":0.78,"ppl":1.05},{"ttp":0.8,"ppl":1.04},{"ttp":0.815,"ppl":1.03},{"ttp":0.835,"ppl":1.04},{"ttp":0.855,"ppl":1.02},{"ttp":0.87,"ppl":1.04},{"ttp":0.89,"ppl":1.05},{"ttp":0.91,"ppl":1.03},{"ttp":0.93,"ppl":1.04},{"ttp":0.95,"ppl":1.03}
  ]
},
"hconcat": [
  {
    "width": 247,
    "height": 245,
    "layer": [
      {
        "data": {"name": "box"},
        "mark": {"type": "rule", "color": "#0000ff", "strokeWidth": 1},
        "encoding": {
          "x": {"field": "group", "type": "nominal", "scale": {"type": "point", "padding": 0.6}, "axis": {"title": null, "labels": false, "ticks": false, "domain": false, "grid": true, "gridColor": "#e6e6e6"}},
          "y": {"field": "lower", "type": "quantitative", "scale": {"domain": [-0.41, 8.55], "nice": false, "zero": false}, "axis": {"title": null, "labels": false, "ticks": false, "domain": false, "grid": true, "gridColor": "#e6e6e6", "values": [0, 1, 2, 3, 4, 5, 6, 7, 8]}},
          "y2": {"field": "q1"}
        }
      },
      {
        "data": {"name": "box"},
        "mark": {"type": "rule", "color": "#0000ff", "strokeWidth": 1},
        "encoding": {
          "x": {"field": "group", "type": "nominal"},
          "y": {"field": "q3", "type": "quantitative", "title": null},
          "y2": {"field": "upper"}
        }
      },
      {
        "data": {"name": "box"},
        "mark": {"type": "bar", "size": 58, "fill": "#0000ff", "fillOpacity": 0.2, "stroke": "#0000ff", "strokeWidth": 1},
        "encoding": {
          "x": {"field": "group", "type": "nominal"},
          "y": {"field": "q1", "type": "quantitative", "title": null},
          "y2": {"field": "q3"}
        }
      },
      {
        "data": {"name": "box"},
        "mark": {"type": "tick", "orient": "horizontal", "size": 58, "thickness": 1, "color": "#0000ff", "opacity": 1},
        "encoding": {
          "x": {"field": "group", "type": "nominal"},
          "y": {"field": "median", "type": "quantitative", "title": null}
        }
      },
      {
        "data": {"name": "box"},
        "mark": {"type": "point", "shape": "square", "filled": true, "size": 5, "color": "#ff0000", "opacity": 1},
        "encoding": {
          "x": {"field": "group", "type": "nominal"},
          "y": {"field": "mean", "type": "quantitative", "title": null}
        }
      },
      {
        "data": {"name": "outliers"},
        "mark": {"type": "circle", "size": 7, "color": "#ff0000", "opacity": 0.3},
        "encoding": {
          "x": {"field": "group", "type": "nominal"},
          "y": {"field": "value", "type": "quantitative", "title": null}
        }
      }
    ]
  },
  {
    "width": 252,
    "height": 241,
    "title": {"text": "correlation between TTP and Perplexity", "anchor": "start", "frame": "group", "fontSize": 10, "fontWeight": "normal", "color": "#000000", "baseline": "alphabetic", "offset": -10},
    "layer": [
      {
        "data": {"name": "pts"},
        "mark": {"type": "circle", "size": 6, "color": "#000000", "opacity": 1},
        "encoding": {
          "x": {"field": "ttp", "type": "quantitative", "scale": {"domain": [-0.045, 1.006], "nice": false, "zero": false},
                "axis": {"title": "Turn Transition Probability", "values": [0, 0.125, 0.25, 0.375, 0.5, 0.625, 0.75, 0.875, 1], "format": ".2f", "labelExpr": "(datum.value * 4) % 1 === 0 ? datum.label : ''", "labelPadding": 2, "titlePadding": 3, "labelFlush": false, "labelOverlap": false, "grid": true}},
          "y": {"field": "ppl", "type": "quantitative", "scale": {"domain": [0.8, 5.28], "nice": false, "zero": false, "range": [241, 6]},
                "axis": {"title": "Perplexity", "values": [1, 1.5, 2, 2.5, 3, 3.5, 4, 4.5, 5], "format": "d", "labelExpr": "datum.value % 1 === 0 ? datum.label : ''", "labelPadding": 2, "titlePadding": 4, "labelOverlap": false, "grid": true}}
        }
      },
      {
        "data": {"name": "fit"},
        "mark": {"type": "line", "color": "#ff0000", "strokeWidth": 1.2},
        "encoding": {
          "x": {"field": "ttp", "type": "quantitative"},
          "y": {"field": "ppl", "type": "quantitative"}
        }
      }
    ]
  }
]
}
